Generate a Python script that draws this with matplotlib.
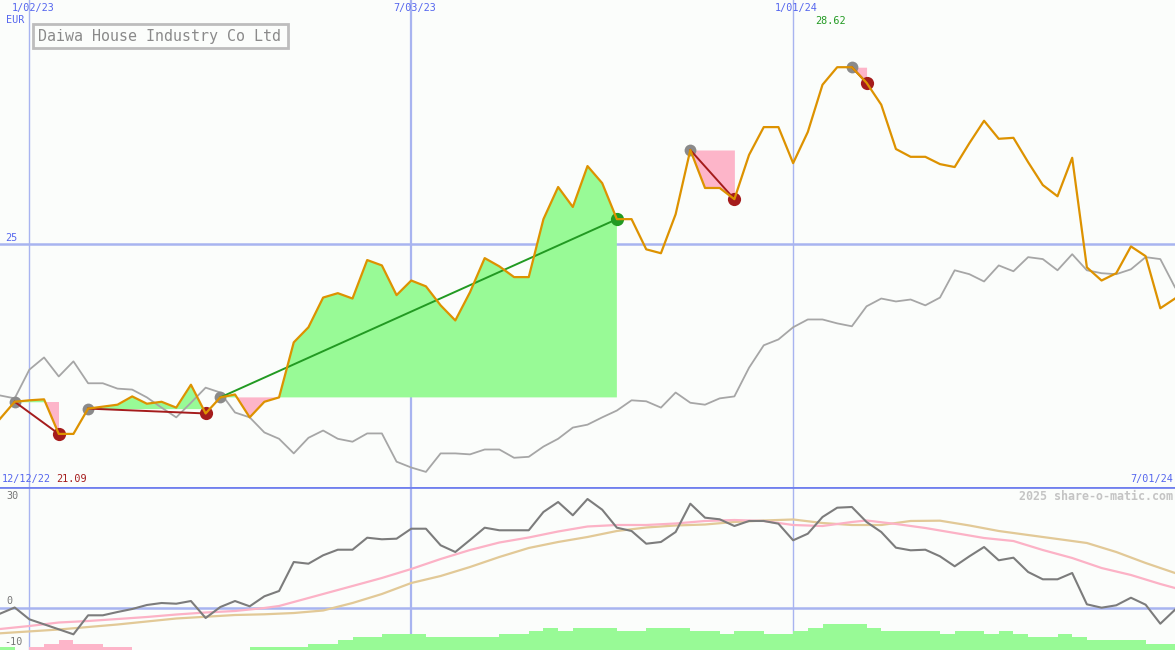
import numpy as np
import matplotlib
matplotlib.use("Agg")
import matplotlib.pyplot as plt
from matplotlib.patches import Rectangle

# ---------------- data (weekly, index 0 = left edge, 80 = 7/01/24) ----------------
price = [21.40, 21.75, 21.78, 21.80, 21.09, 21.09, 21.61, 21.65, 21.69, 21.86,
         21.71, 21.75, 21.63, 22.10, 21.51, 21.84, 21.90, 21.43, 21.75, 21.84,
         22.97, 23.28, 23.89, 23.98, 23.87, 24.66, 24.55, 23.94, 24.24, 24.12,
         23.73, 23.42, 24.00, 24.70, 24.53, 24.31, 24.31, 25.50, 26.16, 25.75,
         26.59, 26.24, 25.50, 25.50, 24.88, 24.80, 25.60, 26.92, 26.14, 26.14,
         25.91, 26.82, 27.39, 27.39, 26.65, 27.29, 28.26, 28.62, 28.62, 28.30,
         27.85, 26.94, 26.78, 26.78, 26.63, 26.57, 27.06, 27.52, 27.15, 27.17,
         26.67, 26.20, 25.97, 26.76, 24.51, 24.24, 24.39, 24.94, 24.74, 23.67,
         23.87]

index_rel = [21.88, 21.82, 22.41, 22.66, 22.27, 22.58, 22.13, 22.13, 22.02, 22.00,
             21.84, 21.63, 21.43, 21.73, 22.04, 21.94, 21.53, 21.43, 21.12, 20.99,
             20.69, 21.01, 21.16, 20.99, 20.93, 21.10, 21.10, 20.52, 20.40, 20.31,
             20.69, 20.69, 20.67, 20.77, 20.77, 20.60, 20.62, 20.83, 20.99, 21.22,
             21.28, 21.43, 21.57, 21.78, 21.76, 21.63, 21.94, 21.73, 21.69, 21.82,
             21.86, 22.45, 22.91, 23.03, 23.28, 23.44, 23.44, 23.36, 23.30, 23.71,
             23.87, 23.81, 23.85, 23.73, 23.89, 24.45, 24.37, 24.22, 24.55, 24.43,
             24.72, 24.68, 24.45, 24.78, 24.45, 24.39, 24.37, 24.47, 24.72, 24.68,
             24.10]

momentum = [-1.65, 0.0, -3.15, -4.48, -5.81, -7.15, -2.08, -2.08, -1.2, -0.4,
            0.67, 1.2, 1.01, 1.73, -2.8, 0.13, 1.73, 0.32, 2.99, 4.4,
            12.13, 11.68, 13.92, 15.41, 15.41, 18.61, 18.19, 18.35, 21.01, 21.01,
            16.59, 14.8, 18.0, 21.28, 20.59, 20.59, 20.59, 25.47, 28.13, 24.59,
            28.93, 26.08, 21.28, 20.4, 17.01, 17.47, 20.13, 27.68, 23.95, 23.52,
            21.73, 23.07, 23.07, 22.35, 17.92, 19.68, 24.13, 26.61, 26.8, 22.8,
            20.13, 15.95, 15.25, 15.41, 13.65, 10.99, 13.65, 16.13, 12.59, 13.28,
            9.47, 7.52, 7.52, 9.2, 0.85, -0.05, 0.59, 2.61, 0.75, -4.32,
            -0.59]

ma_fast_weeks = [0, 2, 4, 6, 8, 10, 12, 14, 16, 18, 19, 20, 22, 24, 26, 27, 28, 30, 32, 34,
                 36, 38, 40, 42, 44, 46, 48, 50, 52, 54, 56, 58, 59, 61, 63, 65, 67, 69, 71, 73,
                 75, 77, 79, 80]
ma_fast = [-5.73, -4.93, -4.0, -3.6, -3.07, -2.53, -1.87, -1.33, -0.93, -0.13,
           0.4, 1.47, 3.6, 5.73, 7.87, 9.07, 10.27, 12.93, 15.33, 17.33,
           18.67, 20.27, 21.6, 22.0, 22.0, 22.4, 23.07, 23.33, 23.07, 22.0,
           21.73, 22.8, 23.2, 22.27, 21.2, 19.87, 18.53, 17.73, 15.33, 13.2,
           10.53, 8.67, 6.27, 5.2]

ma_slow_weeks = [0, 4, 8, 12, 16, 18, 20, 22, 24, 26, 28, 30, 32, 34, 36, 38, 40, 42, 44, 46,
                 48, 50, 52, 54, 56, 58, 60, 62, 64, 66, 68, 70, 72, 74, 76, 78, 80]
ma_slow = [-6.88, -5.87, -4.53, -2.93, -2.0, -1.81, -1.47, -0.8, 1.2, 3.6,
           6.53, 8.4, 10.8, 13.47, 15.87, 17.47, 18.8, 20.4, 21.33, 21.87,
           22.13, 22.8, 23.2, 23.47, 22.53, 22.0, 22.0, 23.07, 23.15, 21.87,
           20.4, 19.33, 18.27, 17.2, 14.8, 11.87, 9.2]

# weekly strength bars (positive = green, negative = pink)
strength = [0.85, 0, -0.85, -1.7, -2.55, -1.7, -1.7, -0.85, -0.85, 0,
            0, 0, 0, 0, 0, 0, 0, 0.85, 0.85, 0.85,
            0.85, 1.7, 1.7, 2.55, 3.4, 3.4, 4.25, 4.25, 4.25, 3.4,
            3.4, 3.4, 3.4, 3.4, 4.25, 4.25, 5.1, 5.95, 5.1, 5.95,
            5.95, 5.95, 5.1, 5.1, 5.95, 5.95, 5.95, 5.1, 5.1, 4.25,
            5.1, 5.1, 4.25, 4.25, 5.1, 5.95, 6.8, 6.8, 6.8, 5.95,
            5.1, 5.1, 5.1, 5.1, 4.25, 5.1, 5.1, 4.25, 5.1, 4.25,
            3.4, 3.4, 4.25, 3.4, 2.55, 2.55, 2.55, 2.55, 1.7, 1.7]

trade_entry = [1, 6, 15, 47, 58]
trade_exit = [4, 14, 42, 50, 59]

grid_weeks = [2, 28, 54]
grid_labels = ["1/02/23", "7/03/23", "1/01/24"]

# ---------------- styling ----------------
W, H = 1175, 650
BG = "#fbfdfb"
BLUE_TXT = "#5566ee"
GRID = "#a8b4f0"
ORANGE = "#dd9200"
GREYLINE = "#a6a6a6"
GREEN_FILL = "#98fa96"
PINK_FILL = "#fdb5c9"
GREEN = "#229a22"
DARKRED = "#a51c1c"
MONO = "DejaVu Sans Mono"

fig = plt.figure(figsize=(W / 100, H / 100), dpi=100)
fig.patch.set_facecolor(BG)

top_h = 487
ax = fig.add_axes([0, 1 - top_h / H, 1, top_h / H])
axb = fig.add_axes([0, 0, 1, (H - top_h) / H])
for a in (ax, axb):
    a.set_facecolor(BG)
    a.set_axis_off()
    a.set_xlim(0, 80)

weeks = np.arange(len(price))
p = np.array(price)

# ---------------- top panel ----------------
ax.set_ylim(20, 30)
for wk in grid_weeks:
    ax.axvline(wk, color=GRID, lw=1.6 if wk == 28 else 1.0, zorder=1)
ax.axhline(25, color=GRID, lw=1.8, zorder=1)

for e, x in zip(trade_entry, trade_exit):
    xs = weeks[e:x + 1]
    ys = p[e:x + 1]
    lvl = p[e]
    ax.fill_between(xs, lvl, ys, where=ys >= lvl, interpolate=True,
                    color=GREEN_FILL, lw=0, zorder=2)
    ax.fill_between(xs, lvl, ys, where=ys <= lvl, interpolate=True,
                    color=PINK_FILL, lw=0, zorder=2)

ax.plot(weeks, index_rel, color=GREYLINE, lw=1.3, zorder=3)

for e, x in zip(trade_entry, trade_exit):
    win = p[x] > p[e]
    c = GREEN if win else DARKRED
    ax.plot([e], [p[e]], "o", ms=8.5, color="#8a8a8a", mec="none", zorder=4)
    ax.plot([x], [p[x]], "o", ms=9.5, color=c, mec="none", zorder=4)
    ax.plot([e, x], [p[e], p[x]], color=c, lw=1.4, zorder=5)

ax.plot(weeks, price, color=ORANGE, lw=1.6, zorder=6)

# ---------------- bottom panel ----------------
ylo, yhi = -11.33, 32.13
axb.set_ylim(ylo, yhi)
for wk in grid_weeks:
    axb.axvline(wk, color=GRID, lw=1.6 if wk == 28 else 1.0, zorder=1)
axb.axhline(0, color=GRID, lw=1.8, zorder=1)
axb.axhline(yhi, color="#7080ee", lw=2.0, zorder=7)

s = np.array(strength)
bar_cols = [GREEN_FILL if v > 0 else PINK_FILL for v in s]
axb.bar(weeks[:-1], np.abs(s), width=1.0, align="edge", bottom=ylo,
        color=bar_cols, lw=0, zorder=2)

axb.plot(ma_slow_weeks, ma_slow, color="#e2c997", lw=1.6, zorder=3)
axb.plot(ma_fast_weeks, ma_fast, color="#fcb2c6", lw=1.6, zorder=3)
axb.plot(weeks, momentum, color="#7c7c7c", lw=1.5, zorder=4)

# ---------------- texts ----------------
def ftext(x, y, s, **kw):
    kw.setdefault("family", MONO)
    kw.setdefault("fontsize", 7.3)
    kw.setdefault("va", "center")
    fig.text(x / W, 1 - y / H, s, **kw)

centers = [33, 415, 796]
for cx, lab in zip(centers, grid_labels):
    ftext(cx, 8, lab, color=BLUE_TXT, ha="center")
ftext(6, 20, "EUR", color=BLUE_TXT, ha="left")
ftext(815, 21, "%.2f" % max(price), color=GREEN, ha="left")
ftext(5, 238, "25", color=BLUE_TXT, ha="left")
ftext(2, 479, "12/12/22", color=BLUE_TXT, ha="left")
ftext(56, 479, "%.2f" % min(price), color=DARKRED, ha="left")
ftext(1173, 479, "7/01/24", color=BLUE_TXT, ha="right")

ftext(6, 496, "30", color="#777777", ha="left")
ftext(6, 601, "0", color="#777777", ha="left")
ftext(4, 642, "-10", color="#777777", ha="left")
ftext(1173, 497, "2025 share-o-matic.com", color="#c4c4c4", ha="right",
      fontsize=8.4, weight="bold")

fig.patches.append(Rectangle((33 / W, 1 - 48 / H), 255 / W, 24 / H,
                             transform=fig.transFigure, fill=False,
                             edgecolor="#bdbdbd", lw=2, zorder=8))
ftext(38, 36.5, "Daiwa House Industry Co Ltd", color="#8a8a8a", ha="left",
      fontsize=10.8)

fig.savefig("out.png", dpi=100, facecolor=BG)
